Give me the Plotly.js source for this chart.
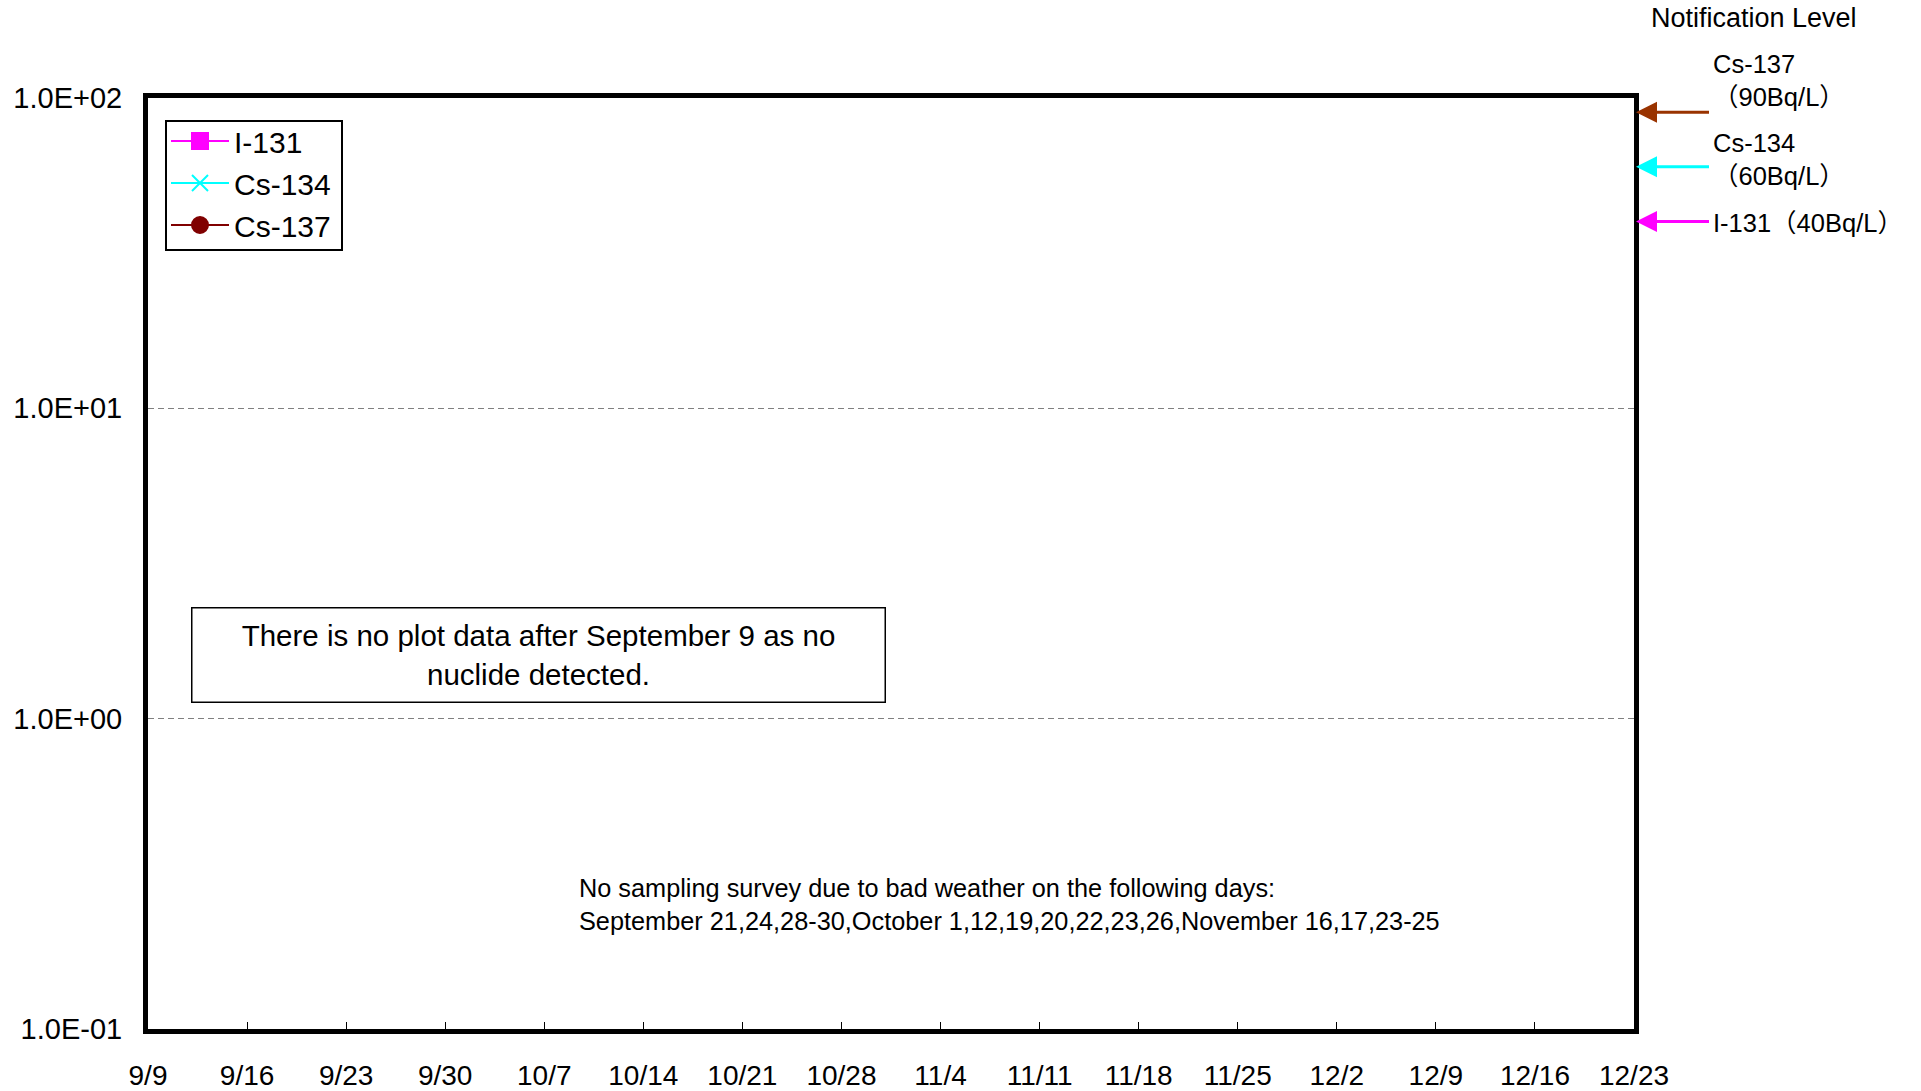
<!DOCTYPE html>
<html>
<head>
<meta charset="utf-8">
<script src="https://cdn.plot.ly/plotly-3.0.1.min.js"></script>
<style>html,body{margin:0;padding:0;background:#fff;}#chart{width:1921px;height:1091px;}</style>
</head>
<body>
<div id="chart"></div>
<script>
// ---- data ----
const seriesNames = ['I-131', 'Cs-134', 'Cs-137'];
const sampleDates = ['2012-09-09'];
const i131Values = [null];
const cs134Values = [null];
const cs137Values = [null];
const notifyNuclides = ['Cs-137', 'Cs-134', 'I-131'];
const notifyLevels = [90, 60, 40];
const notifyLabels = ['Cs-137<br>（90Bq/L）', 'Cs-134<br>（60Bq/L）', 'I-131（40Bq/L）'];
const yTickValues = [0.1, 1, 10, 100];
const yTickLabels = ['1.0E-01', '1.0E+00', '1.0E+01', '1.0E+02'];
const xStart = '2012-09-09';
const xEnd = '2012-12-23';
const noDataNote = 'There is no plot data after September 9 as no<br>nuclide detected.';
const weatherNote = 'No sampling survey due to bad weather on the following days:<br>September 21,24,28-30,October 1,12,19,20,22,23,26,November 16,17,23-25';

// ---- layout helpers ----
const L = 148, R = 1634, T = 98, B = 1029;
const W = R - L, H = B - T;
const px = p => (p - L) / W;
const py = p => (B - p) / H;
const FONT = 'Liberation Sans, Arial, Noto Sans CJK JP, sans-serif';

const seriesColors = ['#FF00FF', '#00FFFF', '#800000'];
const seriesSymbols = ['square', 'x-thin-open', 'circle'];
const seriesVals = [i131Values, cs134Values, cs137Values];
const arrowColors = {'Cs-137': '#993300', 'Cs-134': '#00FFFF', 'I-131': '#FF00FF'};

const traces = seriesNames.map((n, i) => ({
  type: 'scatter', mode: 'lines+markers', name: n,
  x: sampleDates, y: seriesVals[i],
  line: {color: seriesColors[i], width: 2},
  marker: {color: seriesColors[i], symbol: seriesSymbols[i], size: 16,
           line: {color: seriesColors[i], width: 2}}
}));

const labelY = [80, 160, 223];
const annotations = [];
annotations.push({xref: 'paper', yref: 'paper', x: px(1754), y: py(18), xanchor: 'center', yanchor: 'middle',
  text: 'Notification Level', showarrow: false, font: {family: FONT, size: 27, color: '#000'}});
notifyNuclides.forEach((n, i) => {
  annotations.push({xref: 'paper', yref: 'y', x: px(1636), y: Math.log10(notifyLevels[i]),
    text: ' ', showarrow: true, ax: 75, ay: 0, arrowhead: 2, arrowsize: 1.4, arrowwidth: 3,
    arrowcolor: arrowColors[n], font: {size: 4}});
  annotations.push({xref: 'paper', yref: 'paper', x: px(1711), y: py(labelY[i]), xanchor: 'left', yanchor: 'middle',
    align: 'left', text: notifyLabels[i], showarrow: false, font: {family: FONT, size: 25.5, color: '#000'}});
});
annotations.push({xref: 'paper', yref: 'paper', x: px(191), y: py(607), xanchor: 'left', yanchor: 'top',
  text: noDataNote, showarrow: false, align: 'center', width: 692, height: 93, borderpad: 0,
  bordercolor: '#000', borderwidth: 1.5, bgcolor: '#fff', font: {family: FONT, size: 29.5, color: '#000'}});
annotations.push({xref: 'paper', yref: 'paper', x: px(577), y: py(904), xanchor: 'left', yanchor: 'middle',
  text: weatherNote, showarrow: false, align: 'left', font: {family: FONT, size: 25.3, color: '#000'}});

const shapes = [
  {type: 'rect', xref: 'paper', yref: 'paper', x0: px(166), x1: px(342), y0: py(250), y1: py(121),
   line: {color: '#000', width: 2}, fillcolor: 'rgba(0,0,0,0)', layer: 'above'}
];

const layout = {
  width: 1921, height: 1091,
  margin: {l: L, r: 1921 - R, t: T, b: 1091 - B},
  paper_bgcolor: '#fff', plot_bgcolor: '#fff',
  font: {family: FONT, color: '#000'},
  showlegend: true,
  legend: {x: px(166), y: py(115), xanchor: 'left', yanchor: 'top', bgcolor: 'rgba(0,0,0,0)',
    borderwidth: 0, font: {family: FONT, size: 30, color: '#000'}, itemwidth: 58},
  xaxis: {type: 'date', range: [xStart, xEnd], tick0: xStart, dtick: 7 * 86400000, tickformat: '%-m/%-d',
    ticks: 'inside', ticklen: 7, tickwidth: 1, tickcolor: '#000', showgrid: false, zeroline: false,
    showline: true, linewidth: 5, linecolor: '#000', mirror: true,
    tickfont: {family: FONT, size: 28, color: '#000'}, ticklabelstandoff: 17, fixedrange: true},
  yaxis: {type: 'log', range: [-1, 2], tickvals: yTickValues, ticktext: yTickLabels, ticks: '',
    showgrid: true, gridcolor: '#808080', gridwidth: 1, griddash: '6px,4px', zeroline: false,
    showline: true, linewidth: 5, linecolor: '#000', mirror: true,
    tickfont: {family: FONT, size: 29, color: '#000'}, ticklabelstandoff: 15, fixedrange: true},
  shapes: shapes,
  annotations: annotations
};

Plotly.newPlot('chart', traces, layout, {staticPlot: true, displayModeBar: false});
</script>
</body>
</html>
